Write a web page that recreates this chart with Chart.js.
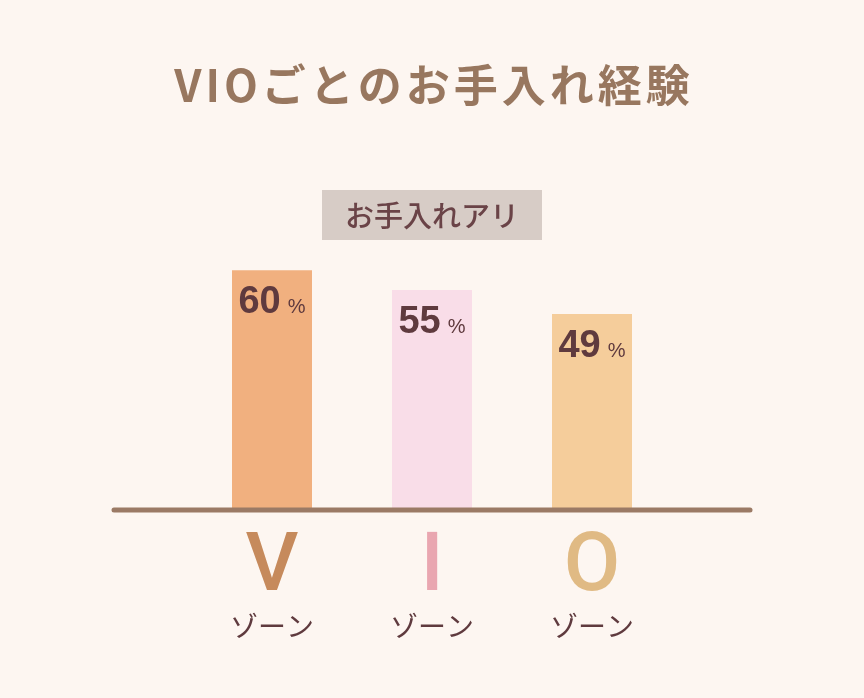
<!DOCTYPE html>
<html lang="ja">
<head>
<meta charset="utf-8">
<title>VIOごとのお手入れ経験</title>
<script src="https://cdn.jsdelivr.net/npm/chart.js@4.4.1/dist/chart.umd.min.js"></script>
<style>
  html, body { margin: 0; padding: 0; background: #fdf6f1; }
  #wrap { width: 864px; height: 698px; }
</style>
</head>
<body>
<div id="wrap"><canvas id="graficVIO" width="864" height="698"></canvas></div>
<script>
// Date grafic
const titlu = 'VIOごとのお手入れ経験';
const zone = ['V', 'I', 'O'];
const zoneText = ['ゾーン', 'ゾーン', 'ゾーン'];
const serieNume = 'お手入れアリ';
const procente = [60, 55, 49];
const culoriBare = ['#f1b07f', '#f9dde8', '#f5cd9b'];
const culoriLitere = ['#c68a5c', '#e9a6b0', '#e0ba84'];

const fontCJK = '"Noto Sans CJK JP", "Noto Sans", sans-serif';
const fontCifre = '"Liberation Sans", Arial, sans-serif';

// fundal crem
const fundal = {
    id: 'fundal',
    beforeDraw(chart) {
        const c = chart.ctx;
        c.save();
        c.fillStyle = '#fdf6f1';
        c.fillRect(0, 0, chart.width, chart.height);
        c.restore();
    }
};

// linia de baza, etichetele cu procente, caseta si titlul
const decor = {
    id: 'decor',
    afterDatasetsDraw(chart) {
        const c = chart.ctx;
        const a = chart.chartArea;
        const cx = (a.left + a.right) / 2;
        const y0 = chart.scales.y.getPixelForValue(0);
        c.save();

        c.strokeStyle = '#9b7a65';
        c.lineWidth = 5;
        c.lineCap = 'round';
        c.beginPath();
        c.moveTo(a.left - 78, y0 + 1);
        c.lineTo(a.right + 78, y0 + 1);
        c.stroke();

        const meta = chart.getDatasetMeta(0);
        meta.data.forEach((bar, i) => {
            const val = String(chart.data.datasets[0].data[i]);
            c.font = 'bold 38px ' + fontCifre;
            const w1 = c.measureText(val).width;
            c.font = '20px ' + fontCifre;
            const w2 = c.measureText('%').width;
            const gap = 7;
            const x0 = bar.x - (w1 + gap + w2) / 2;
            const yb = bar.y + 43;
            c.fillStyle = '#5f3a3e';
            c.textAlign = 'left';
            c.textBaseline = 'alphabetic';
            c.font = 'bold 38px ' + fontCifre;
            c.fillText(val, x0, yb);
            c.font = '20px ' + fontCifre;
            c.fillText('%', x0 + w1 + gap, yb);
        });

        // caseta cu numele seriei
        const bw = 220, bh = 50;
        const by = a.top + 79;
        c.fillStyle = '#d7ccc6';
        c.fillRect(cx - bw / 2, by, bw, bh);
        c.fillStyle = '#6a4347';
        c.font = '500 29px ' + fontCJK;
        c.textAlign = 'center';
        c.textBaseline = 'middle';
        c.fillText(chart.data.datasets[0].label, cx, by + bh / 2 + 1);

        // titlu
        c.fillStyle = '#98775f';
        c.font = 'bold 44px ' + fontCJK;
        c.letterSpacing = '4px';
        c.fillText(titlu, cx + 2, 85);
        c.letterSpacing = '0px';

        c.restore();
    }
};

document.addEventListener('DOMContentLoaded', function() {
    const ctx = document.getElementById('graficVIO').getContext('2d');

    const grafic = new Chart(ctx, {
        type: 'bar',
        data: {
            labels: zone,
            datasets: [{
                label: serieNume,
                data: procente,
                backgroundColor: culoriBare,
                borderWidth: 0,
                barPercentage: 0.5,
                categoryPercentage: 1.0
            }]
        },
        options: {
            responsive: false,
            animation: false,
            layout: { padding: { top: 111, left: 192, right: 192, bottom: 49 } },
            plugins: {
                legend: { display: false },
                tooltip: { enabled: false }
            },
            scales: {
                y: { display: false, min: 0, max: 100 },
                x: {
                    offset: true,
                    grid: { display: false },
                    border: { display: false },
                    ticks: {
                        padding: 11,
                        autoSkip: false,
                        maxRotation: 0,
                        color: (c) => culoriLitere[c.index],
                        font: { family: 'Roboto, ' + fontCifre, size: 82, weight: 500, lineHeight: 1 }
                    },
                    afterFit: (s) => { s.height = 90; }
                },
                x2: {
                    type: 'category',
                    position: 'bottom',
                    labels: zoneText,
                    offset: true,
                    weight: 1,
                    grid: { display: false },
                    border: { display: false },
                    ticks: {
                        padding: 5,
                        autoSkip: false,
                        maxRotation: 0,
                        color: '#5f3a3e',
                        font: { family: fontCJK, size: 28, lineHeight: 1 }
                    },
                    afterFit: (s) => { s.height = 50; }
                }
            }
        },
        plugins: [fundal, decor]
    });
});
</script>
</body>
</html>
